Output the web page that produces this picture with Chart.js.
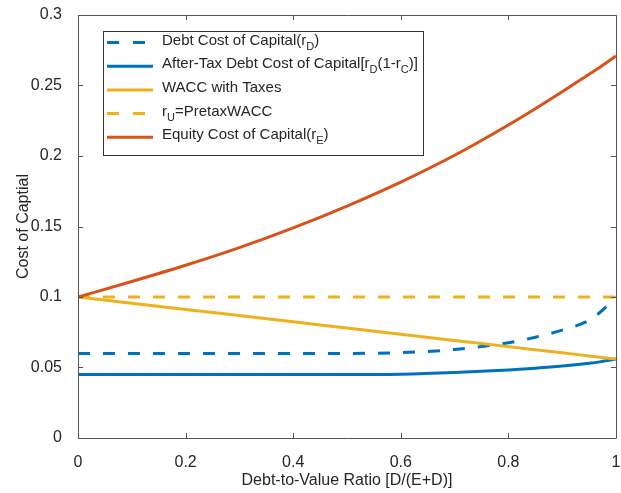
<!DOCTYPE html>
<html>
<head>
<meta charset="utf-8">
<script src="https://cdn.jsdelivr.net/npm/chart.js@4"></script>
<style>
  body { margin: 0; background: #fff; }
  #wrap { width: 621px; height: 493px; position: relative; }
</style>
</head>
<body>
<div id="wrap"><canvas id="costChart"></canvas></div>
<script>
// Data
const debtRatio     = [0, 0.1, 0.2, 0.3, 0.4, 0.5, 0.6, 0.7, 0.8, 0.85, 0.9, 0.95, 0.97, 1];
const debtCost      = [0.06, 0.06, 0.06, 0.06, 0.06, 0.06, 0.0605, 0.0628, 0.0675, 0.0715, 0.0765, 0.0835, 0.089, 0.1];
const afterTaxDebt  = [0.045, 0.045, 0.045, 0.045, 0.045, 0.045, 0.0453, 0.0465, 0.0483, 0.0495, 0.051, 0.053, 0.054, 0.056];
const waccTaxes     = [0.1, 0.0956, 0.0912, 0.0868, 0.0824, 0.078, 0.0736, 0.0692, 0.0648, 0.0626, 0.0604, 0.0582, 0.0573, 0.056];
const pretaxWacc    = [0.1, 0.1, 0.1, 0.1, 0.1, 0.1, 0.1, 0.1, 0.1, 0.1, 0.1, 0.1, 0.1, 0.1];
const equityCost    = [0.1, 0.111, 0.1225, 0.135, 0.149, 0.1645, 0.1815, 0.2005, 0.222, 0.2335, 0.2455, 0.258, 0.263, 0.271];
const xTicks = [0, 0.2, 0.4, 0.6, 0.8, 1];
const yTicks = [0, 0.05, 0.1, 0.15, 0.2, 0.25, 0.3];

const BLUE = '#0072BD';
const RED = '#D95319';
const YELLOW = '#EDB120';
const INK = '#262626';
const FONT = '"Liberation Sans", Arial, sans-serif';

function toPoints(ys) {
  return ys.map((y, i) => ({ x: debtRatio[i], y: y }));
}

// legend entries: pieces of text, subscripts flagged
const legendItems = [
  { color: BLUE, dash: true, parts: [['Debt Cost of Capital(r'], ['D', 1], [')']] },
  { color: BLUE, dash: false, parts: [['After-Tax Debt Cost of Capital[r'], ['D', 1], ['(1-r'], ['C', 1], [')]']] },
  { color: YELLOW, dash: false, parts: [['WACC with Taxes']] },
  { color: YELLOW, dash: true, parts: [['r'], ['U', 1], ['=PretaxWACC']] },
  { color: RED, dash: false, parts: [['Equity Cost of Capital(r'], ['E', 1], [')']] }
];

// box + inward ticks like matlab, plus the legend box
const boxPlugin = {
  id: 'box',
  afterDatasetsDraw(chart) {
    const { ctx, chartArea: a, scales } = chart;
    ctx.save();
    ctx.strokeStyle = '#555';
    ctx.lineWidth = 1;
    ctx.beginPath();
    ctx.rect(Math.round(a.left) + 0.5, Math.round(a.top) + 0.5, Math.round(a.right - a.left), Math.round(a.bottom - a.top));
    xTicks.forEach(v => {
      const px = Math.round(scales.x.getPixelForValue(v)) + 0.5;
      ctx.moveTo(px, a.bottom); ctx.lineTo(px, a.bottom - 5);
      ctx.moveTo(px, a.top); ctx.lineTo(px, a.top + 5);
    });
    yTicks.forEach(v => {
      const py = Math.round(scales.y.getPixelForValue(v)) + 0.5;
      ctx.moveTo(a.left, py); ctx.lineTo(a.left + 5, py);
      ctx.moveTo(a.right, py); ctx.lineTo(a.right - 5, py);
    });
    ctx.stroke();
    ctx.restore();
  },
  afterDraw(chart) {
    const ctx = chart.ctx;
    ctx.save();
    ctx.fillStyle = '#fff';
    ctx.fillRect(103, 31, 320, 124);
    ctx.strokeStyle = '#333';
    ctx.lineWidth = 1;
    ctx.strokeRect(103.5, 31.5, 320, 124);
    legendItems.forEach((item, i) => {
      const y = 42.5 + i * 23.7;
      ctx.strokeStyle = item.color;
      ctx.lineWidth = 3;
      ctx.beginPath();
      if (item.dash) {
        ctx.moveTo(107, y); ctx.lineTo(119, y);
        ctx.moveTo(133, y); ctx.lineTo(145, y);
      } else {
        ctx.moveTo(107, y); ctx.lineTo(153, y);
      }
      ctx.stroke();
      let x = 162;
      ctx.fillStyle = INK;
      ctx.textBaseline = 'middle';
      item.parts.forEach(p => {
        if (p[1]) {
          ctx.font = '11px ' + FONT;
          ctx.fillText(p[0], x, y + 4);
        } else {
          ctx.font = '15px ' + FONT;
          ctx.fillText(p[0], x, y - 2);
        }
        x += ctx.measureText(p[0]).width;
      });
    });
    ctx.restore();
  }
};

const commonLine = { pointRadius: 0, borderWidth: 3, cubicInterpolationMode: 'monotone', fill: false };

new Chart(document.getElementById('costChart'), {
  type: 'line',
  data: {
    datasets: [
      { ...commonLine, label: 'Debt Cost of Capital(rD)', data: toPoints(debtCost), borderColor: BLUE, borderDash: [12, 13], order: 4 },
      { ...commonLine, label: 'After-Tax Debt Cost of Capital', data: toPoints(afterTaxDebt), borderColor: BLUE, order: 3 },
      { ...commonLine, label: 'WACC with Taxes', data: toPoints(waccTaxes), borderColor: YELLOW, order: 2 },
      { ...commonLine, label: 'rU=PretaxWACC', data: toPoints(pretaxWacc), borderColor: YELLOW, borderDash: [12, 13], order: 1 },
      { ...commonLine, label: 'Equity Cost of Capital(rE)', data: toPoints(equityCost), borderColor: RED, order: 0 }
    ]
  },
  options: {
    responsive: true,
    maintainAspectRatio: false,
    animation: false,
    layout: { padding: { top: 15, right: 5, left: 0, bottom: 0 } },
    plugins: {
      legend: { display: false },
      tooltip: { enabled: false }
    },
    scales: {
      x: {
        type: 'linear',
        min: 0,
        max: 1,
        afterFit: s => { s.height = 55; s.paddingLeft = 0; s.paddingRight = 0; },
        afterBuildTicks: s => { s.ticks = xTicks.map(v => ({ value: v })); },
        ticks: {
          color: INK,
          font: { family: FONT, size: 16 },
          padding: 7,
          maxRotation: 0,
          callback: v => String(+v.toFixed(2))
        },
        grid: { display: false },
        border: { display: false },
        title: {
          display: true,
          text: 'Debt-to-Value Ratio [D/(E+D)]',
          color: INK,
          font: { family: FONT, size: 16 },
          padding: { top: 0, bottom: 3 }
        }
      },
      y: {
        min: 0,
        max: 0.3,
        afterFit: s => { s.width = 78; s.paddingTop = 0; s.paddingBottom = 0; },
        afterBuildTicks: s => { s.ticks = yTicks.map(v => ({ value: v })); },
        ticks: {
          color: INK,
          font: { family: FONT, size: 16 },
          padding: 8,
          callback: v => String(+v.toFixed(2))
        },
        grid: { display: false },
        border: { display: false },
        title: {
          display: true,
          text: 'Cost of Captial',
          color: INK,
          font: { family: FONT, size: 16 },
          padding: { top: 14, bottom: 0 }
        }
      }
    }
  },
  plugins: [boxPlugin]
});
</script>
</body>
</html>
